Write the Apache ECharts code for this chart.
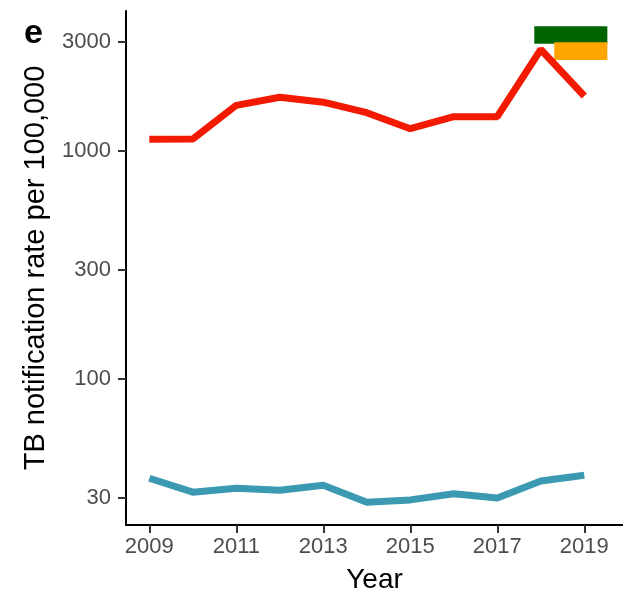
<!DOCTYPE html>
<html>
<head>
<meta charset="utf-8">
<script src="https://cdn.jsdelivr.net/npm/echarts@6/dist/echarts.min.js"></script>
<style>
html,body{margin:0;padding:0;background:#fff;}
#c{width:623px;height:596px;}
</style>
</head>
<body>
<div id="c"></div>
<script>
const years = [2009, 2010, 2011, 2012, 2013, 2014, 2015, 2016, 2017, 2018, 2019];
const redValues = [1121, 1124, 1579, 1712, 1630, 1466, 1247, 1408, 1408, 2773, 1735];
const blueValues = [36.7, 31.9, 33.2, 32.5, 34.2, 28.8, 29.5, 31.4, 30.1, 35.7, 37.8];
const xTicks = [2009, 2011, 2013, 2015, 2017, 2019];
const yTicks = [30, 100, 300, 1000, 3000];
// rectangles: [x1, x2, y1, y2]
const greenRect = [2017.85, 2019.53, 2940, 3509];
const orangeRect = [2018.31, 2019.53, 2493, 2982];

const chart = echarts.init(document.getElementById('c'), null, {renderer: 'canvas'});
const font = 'Liberation Sans, Arial, Helvetica, sans-serif';

function rectArea(r, color) {
  return {
    silent: true,
    itemStyle: {color: color, opacity: 1},
    data: [[{coord: [r[0], r[3]]}, {coord: [r[1], r[2]]}]]
  };
}

chart.setOption({
  animation: false,
  backgroundColor: '#ffffff',
  grid: {left: 126, top: 11, right: 0, height: 514, containLabel: false, outerBoundsMode: 'none'},
  xAxis: {
    type: 'value',
    min: 2008.464,
    max: 2019.89,
    name: 'Year',
    nameLocation: 'middle',
    nameGap: 41,
    nameTextStyle: {fontFamily: font, fontSize: 28, color: '#000'},
    axisLine: {show: true, onZero: false, lineStyle: {color: '#000', width: 2}},
    axisTick: {show: true, length: 8, lineStyle: {color: '#333', width: 2}, customValues: xTicks},
    axisLabel: {customValues: xTicks, fontFamily: font, fontSize: 22, color: '#4D4D4D', margin: 11,
      formatter: v => String(Math.round(v))},
    splitLine: {show: false}
  },
  yAxis: {
    type: 'log',
    min: 22.9,
    max: 4089,
    name: 'TB notification rate per 100,000',
    nameLocation: 'middle',
    nameGap: 76,
    nameTextStyle: {fontFamily: font, fontSize: 29, color: '#000'},
    axisLine: {show: true, onZero: false, lineStyle: {color: '#000', width: 2}},
    axisTick: {show: true, length: 8, lineStyle: {color: '#333', width: 2}, customValues: yTicks},
    axisLabel: {customValues: yTicks, fontFamily: font, fontSize: 22, color: '#4D4D4D', margin: 15,
      formatter: v => String(Math.round(v))},
    splitLine: {show: false}
  },
  graphic: [{
    type: 'text', left: 24, top: 17,
    style: {text: 'e', font: 'bold 34px ' + font, fill: '#000'}
  }],
  series: [
    {
      type: 'line', data: years.map((y, i) => [y, redValues[i]]),
      symbol: 'none', lineStyle: {color: '#F21A00', width: 7}, z: 2
    },
    {
      type: 'line', data: years.map((y, i) => [y, blueValues[i]]),
      symbol: 'none', lineStyle: {color: '#3B9AB2', width: 7}, z: 2
    },
    {
      type: 'line', data: [], z: 3,
      markArea: rectArea(greenRect, '#006400')
    },
    {
      type: 'line', data: [], z: 4,
      markArea: rectArea(orangeRect, '#FFA500')
    }
  ]
});
</script>
</body>
</html>
